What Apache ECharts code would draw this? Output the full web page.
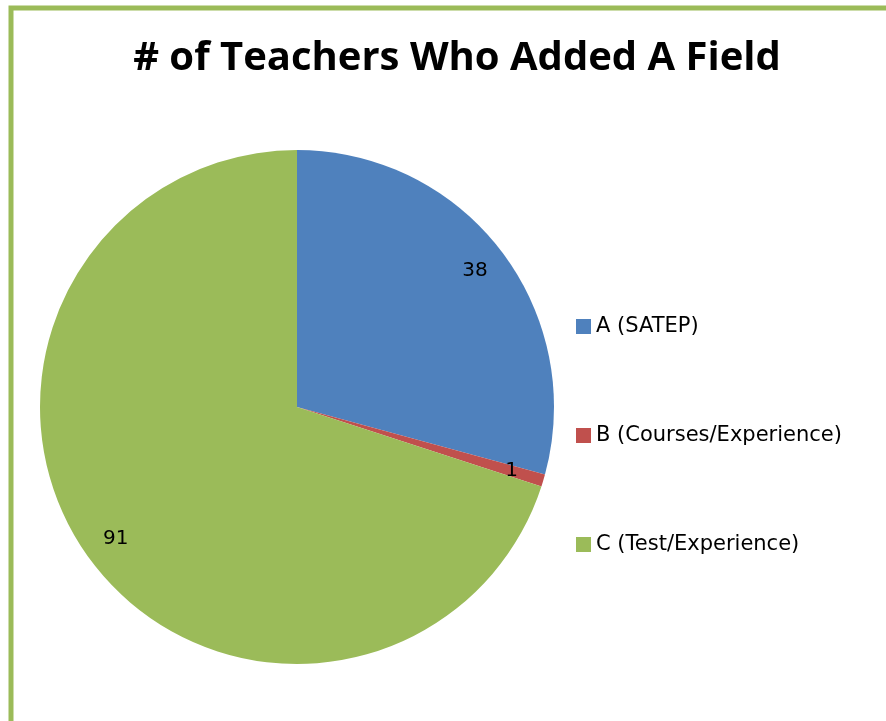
<!DOCTYPE html>
<html>
<head>
<meta charset="utf-8">
<script src="https://cdn.jsdelivr.net/npm/echarts@6/dist/echarts.min.js"></script>
<style>
  html, body { margin: 0; padding: 0; background: #fff; }
  #chart { width: 886px; height: 721px; }
</style>
</head>
<body>
<div id="chart"></div>
<script>
var categories = ['A (SATEP)', 'B (Courses/Experience)', 'C (Test/Experience)'];
var teacherCounts = [38, 1, 91];
var sliceColors = ['#4F81BD', '#C0504D', '#9BBB59'];

var pieData = categories.map(function (name, i) {
  return { name: name, value: teacherCounts[i], itemStyle: { color: sliceColors[i] } };
});

var chart = echarts.init(document.getElementById('chart'));
chart.setOption({
  animation: false,
  title: {
    text: '# of Teachers Who Added A Field',
    left: 452,
    textAlign: 'center',
    top: 34,
    textStyle: { fontFamily: 'Open Sans', fontWeight: 'bold', fontSize: 40, color: '#000' }
  },
  legend: {
    orient: 'vertical',
    left: 571,
    top: 311,
    itemGap: 88,
    itemWidth: 15,
    itemHeight: 15,
    icon: 'rect',
    data: categories,
    textStyle: { fontFamily: 'DejaVu Sans', fontSize: 21, color: '#000' }
  },
  graphic: [{
    type: 'rect',
    shape: { x: 11, y: 8, width: 1000, height: 1000 },
    style: { fill: 'none', stroke: '#9BBB59', lineWidth: 5 },
    silent: true
  }],
  series: [{
    type: 'pie',
    center: [297, 407],
    radius: 257,
    startAngle: 90,
    clockwise: true,
    label: { show: false },
    labelLine: { show: false },
    data: pieData
  }, {
    // 只用来放数据标签
    type: 'pie',
    center: [297, 407],
    radius: [184, 258],
    startAngle: 90,
    clockwise: true,
    silent: true,
    itemStyle: { color: 'rgba(0,0,0,0)' },
    label: {
      show: true,
      position: 'inside',
      formatter: '{c}',
      fontFamily: 'DejaVu Sans',
      fontSize: 20,
      color: '#000'
    },
    labelLine: { show: false },
    data: categories.map(function (name, i) {
      return { name: name, value: teacherCounts[i] };
    })
  }]
});
</script>
</body>
</html>
